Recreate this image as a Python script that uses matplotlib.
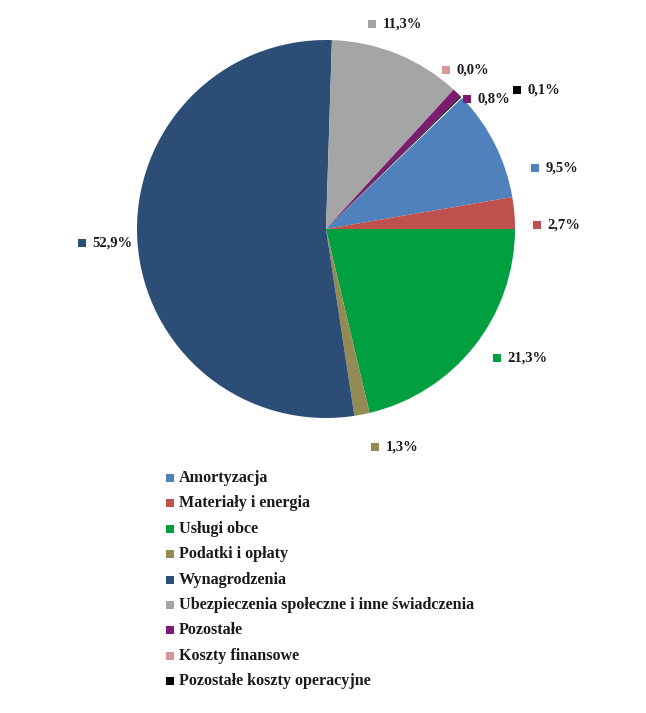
import matplotlib
matplotlib.use("Agg")
import matplotlib.pyplot as plt

categories = ["Amortyzacja", "Materiały i energia", "Usługi obce", "Podatki i opłaty",
              "Wynagrodzenia", "Ubezpieczenia społeczne i inne świadczenia", "Pozostałe",
              "Koszty finansowe", "Pozostałe koszty operacyjne"]
values = [9.5, 2.7, 21.3, 1.3, 52.9, 11.3, 0.8, 0.0, 0.1]
labels = ["9,5%", "2,7%", "21,3%", "1,3%", "52,9%", "11,3%", "0,8%", "0,0%", "0,1%"]
colors = ["#4F81BD", "#C0504D", "#00A040", "#948A54", "#2C4D75",
          "#A5A5A5", "#7B1C72", "#D99694", "#000000"]

# label square positions in pie-radius units (layout only)
label_pos = [(1.106, 0.323), (1.116, 0.021), (0.905, -0.683), (0.259, -1.153),
             (-1.291, -0.074), (0.243, 1.085), (0.746, 0.688), (0.635, 0.841),
             (1.011, 0.735)]

W, H = 646, 713
cx, cy, R = 326, 229, 189

plt.rcParams['font.family'] = ['Liberation Serif', 'DejaVu Serif']
fig = plt.figure(figsize=(W / 100, H / 100), dpi=100)
ax = fig.add_axes([0, 0, 1, 1])

# start so that green slice begins at 3 o'clock
start = (values[0] + values[1]) / 100 * 360
ax.pie([v / 100 for v in values], colors=colors, startangle=start, counterclock=False,
       wedgeprops=dict(linewidth=0), radius=1.0, center=(0, 0), normalize=False)

ax.set_xlim(-cx / R, (W - cx) / R)
ax.set_ylim((cy - H) / R, cy / R)
ax.set_aspect('auto')
ax.axis('off')

for (x, y), lab, c in zip(label_pos, labels, colors):
    ax.plot(x, y, marker='s', ms=5.5, color=c, mew=0, ls='none')
    ax.text(x + 0.055, y, lab, va='center', ha='left', fontsize=10.5,
            fontweight='bold', color='#1a1a1a')

# legend
for i, (name, c) in enumerate(zip(categories, colors)):
    py = 478 + i * 25.4
    y = (cy - py) / R
    ax.plot((170 - cx) / R, y, marker='s', ms=5.5, color=c, mew=0, ls='none')
    ax.text((179 - cx) / R, y, name, va='center', ha='left', fontsize=11.6,
            fontweight='bold', color='#1a1a1a')

fig.savefig("out.png", dpi=100)
